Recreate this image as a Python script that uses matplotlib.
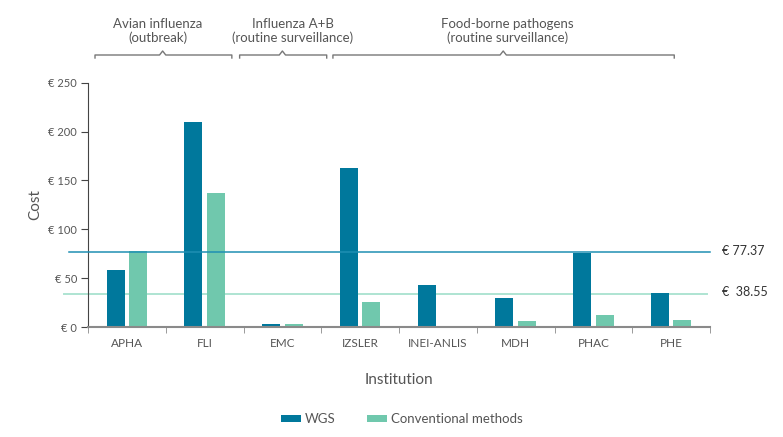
import numpy as np
import matplotlib
matplotlib.use("Agg")
import matplotlib.pyplot as plt
from matplotlib import transforms

plt.rcParams['font.family'] = ['Lato', 'DejaVu Sans']

# data
institutions = ["APHA", "FLI", "EMC", "IZSLER", "INEI-ANLIS", "MDH", "PHAC", "PHE"]
wgs = [58, 210, 3, 163, 43, 30, 76, 35]
conventional = [78, 137, 3, 26, 0, 6, 12, 7.5]
mean_lines = [76.5, 34]
mean_labels = ["€ 77.37", "€  38.55"]
yticks = [0, 50, 100, 150, 200, 250]

groups = ["Avian influenza\n(outbreak)", "Influenza A+B\n(routine surveillance)",
          "Food-borne pathogens\n(routine surveillance)"]
# bracket start, end, peak, text centre (in category units)
group_spans = [(-0.41, 1.35, 0.46, 0.40), (1.45, 2.57, 2.0, 2.13), (2.65, 7.04, 4.84, 4.89)]

c_wgs = "#00789c"
c_conv = "#70c8ad"
c_line1 = "#1f8fb3"
c_line2 = "#aee4d2"
grey = "#555555"
spine_grey = "#8a8a8a"

fig = plt.figure(figsize=(7.83, 4.37), dpi=100)
ax = fig.add_axes([0.1124, 0.2517, 0.7944, 0.5591])

x = np.arange(len(institutions))
w = 0.23
ax.bar(x - 0.145, wgs, w, color=c_wgs, label="WGS", zorder=2)
ax.bar(x + 0.145, conventional, w, color=c_conv, label="Conventional methods", zorder=2)

ax.set_xlim(-0.5, len(institutions) - 0.5)
ax.set_ylim(0, 250)

# mean lines, running a little left of the axis
ax.plot([-0.74, 7.5], [mean_lines[0]] * 2, color=c_line1, lw=1.1, clip_on=False, zorder=3)
ax.plot([-0.81, 7.46], [mean_lines[1]] * 2, color=c_line2, lw=1.4, clip_on=False, zorder=1)
for v, lab in zip(mean_lines, mean_labels):
    ax.text(7.66, v + 1.5, lab, fontsize=9, color="#333333", va="center", ha="left")

ax.set_yticks(yticks)
ax.set_yticklabels(["€ %d" % t for t in yticks], fontsize=8, color=grey)
ax.set_xticks(x)
ax.set_xticklabels(institutions, fontsize=8.5, color=grey)
ax.set_xticks(np.arange(-0.5, len(institutions)), minor=True)
ax.tick_params(axis="x", which="major", length=0, pad=8)
ax.tick_params(axis="x", which="minor", length=4, color=spine_grey, direction="out")
ax.tick_params(axis="y", length=5, color="#444444", pad=3)

for s in ["top", "right"]:
    ax.spines[s].set_visible(False)
ax.spines["left"].set_color("#444444")
ax.spines["bottom"].set_color(spine_grey)
ax.spines["bottom"].set_linewidth(1.5)

ax.set_ylabel("Cost", fontsize=11, color=grey, labelpad=4)
ax.set_xlabel("Institution", fontsize=11, color=grey, labelpad=17)

# group brackets above the plot
trans = transforms.blended_transform_factory(ax.transData, fig.transFigure)
yb = 1 - 55 / 437.0
tick = 3 / 437.0
peak = 4 / 437.0
for (x0, x1, xm, xt), name in zip(group_spans, groups):
    ax.plot([x0, x0, xm - 0.04, xm, xm + 0.04, x1, x1],
            [yb - tick, yb, yb, yb + peak, yb, yb, yb - tick],
            color="#777777", lw=1, transform=trans, clip_on=False)
    ax.text(xt, 1 - 31 / 437.0, name, transform=trans, ha="center", va="center",
            fontsize=9.5, color=grey, linespacing=1.15)

fig.legend(loc="center", bbox_to_anchor=(0.513, 1 - 419 / 437.0), ncol=2, frameon=False,
           fontsize=9.5, handlelength=1.5, handleheight=0.5, columnspacing=2.4,
           handletextpad=0.3, labelcolor=grey)

fig.savefig("out.png", dpi=100)
